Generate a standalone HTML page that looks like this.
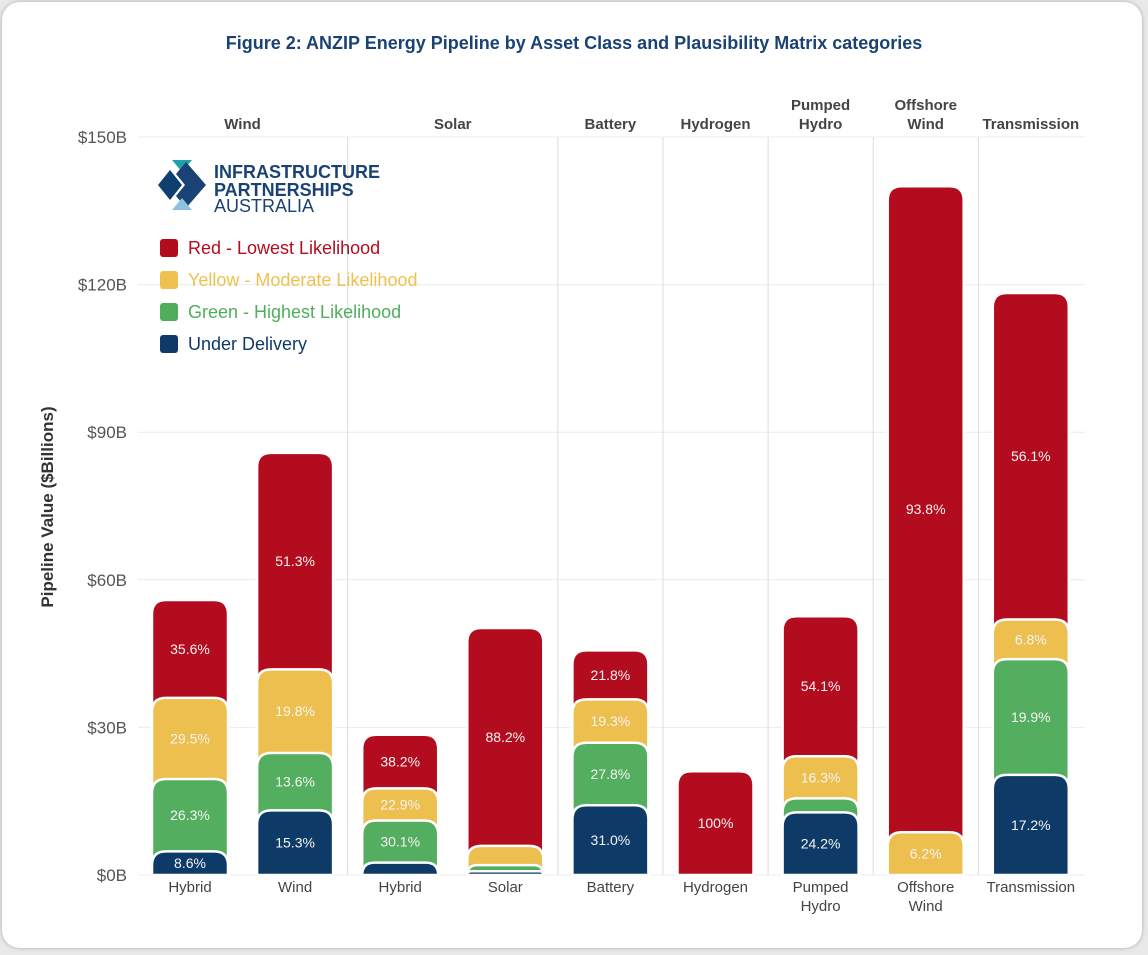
<!DOCTYPE html>
<html><head><meta charset="utf-8">
<style>
html,body{margin:0;padding:0;background:#e9e9e9;width:1148px;height:955px;overflow:hidden}
#card{position:absolute;left:2px;top:2px;width:1140px;height:946px;background:#fff;border-radius:18px;box-shadow:0 0 4px #aaa}
svg{position:absolute;left:0;top:0}
text{font-family:"Liberation Sans",sans-serif}
</style></head><body>
<div id="card"></div>
<svg id="chart" width="1148" height="955"></svg>
<script>
const categories=["Hybrid","Wind","Hybrid","Solar","Battery","Hydrogen","Pumped|Hydro","Offshore|Wind","Transmission"];
const totals=[55.9,85.8,28.5,50.2,45.7,21.1,52.6,140,118.3];
const blueVals=[8.6,15.3,8.8,1.5,31.0,0,24.2,0,17.2];
const greenVals=[26.3,13.6,30.1,2.5,27.8,0,5.4,0,19.9];
const yellowVals=[29.5,19.8,22.9,7.8,19.3,0,16.3,6.2,6.8];
const redVals=[35.6,51.3,38.2,88.2,21.8,100,54.1,93.8,56.1];
const yTicks=[0,30,60,90,120,150];
const facets=["Wind","Solar","Battery","Hydrogen","Pumped|Hydro","Offshore|Wind","Transmission"];
const facetSpan=[[0,1],[2,3],[4,4],[5,5],[6,6],[7,7],[8,8]];

const NS="http://www.w3.org/2000/svg";
const svg=document.getElementById('chart');
function el(t,a,txt){const e=document.createElementNS(NS,t);for(const k in a)e.setAttribute(k,a[k]);if(txt!==undefined)e.textContent=txt;svg.appendChild(e);return e;}
const y0=875,pxPer=738/150,x0=138,x1=1085;
const y=v=>y0-v*pxPer;
const xc=i=>190+i*105.1;
const bw=76;

let t=el('text',{x:574,y:49,'text-anchor':'middle','font-size':18,'font-weight':'bold',fill:'#1b4275'},'Figure 2: ANZIP Energy Pipeline by Asset Class and Plausibility Matrix categories');


yTicks.forEach(v=>{
  let g=el('line',{x1:x0,x2:x1,y1:y(v),y2:y(v),stroke:'#ececec','stroke-width':1});
  
  let l=el('text',{x:127,y:y(v)+6,'text-anchor':'end','font-size':17,fill:'#555'},'$'+v+'B');
  
});
facetSpan.forEach((s,i)=>{
  const left=xc(s[0])-52.5, right=xc(s[1])+52.5;
  if(i>0){let d=el('line',{x1:left,x2:left,y1:y(150),y2:y0,stroke:'#dcdcdc'});}
  const cx=(left+right)/2;const parts=facets[i].split('|');
  parts.forEach((p,j)=>{let f=el('text',{x:cx,y:129-(parts.length-1-j)*19,'text-anchor':'middle','font-size':15,'font-weight':'bold',fill:'#444'},p);
  });
});
let at=el('text',{x:0,y:0,transform:'translate(53,507) rotate(-90)','text-anchor':'middle','font-size':17,'font-weight':'bold',fill:'#333'},'Pipeline Value ($Billions)');


const colors=['#0d3a67','#54ae5f','#ecbf4e','#b30c1e'];
const series=[blueVals,greenVals,yellowVals,redVals];
const snames=['under-delivery','green','yellow','red'];
function topRounded(x,top,w,bottom,r){
  r=Math.min(r,(bottom-top),w/2);
  return `M${x},${bottom} L${x},${top+r} Q${x},${top} ${x+r},${top} L${x+w-r},${top} Q${x+w},${top} ${x+w},${top+r} L${x+w},${bottom} Z`;
}
categories.forEach((c,i)=>{
  const cum=[];let acc=0;
  series.forEach((s,k)=>{acc+=totals[i]*s[i]/100;cum.push(acc);});
  for(let k=3;k>=0;k--){
    const v=totals[i]*series[k][i]/100;if(v<=0)continue;
    const top=y(cum[k]);
    let p=el('path',{d:topRounded(xc(i)-bw/2,top,bw,y0,14),fill:colors[k],stroke:'#fff','stroke-width':2.5});
    
  }
  series.forEach((s,k)=>{
    const v=totals[i]*s[i]/100;if(v<=0)return;
    const h=v*pxPer;const top=y(cum[k]);
    if(h>=21){const txt=s[i]===100?'100%':s[i].toFixed(1)+'%';
      let lt=el('text',{x:xc(i),y:top+h/2+5,'text-anchor':'middle','font-size':14,fill:'#f4f4f4'},txt);
      }
  });
  c.split('|').forEach((p,j)=>{let xl=el('text',{x:xc(i),y:892+j*19,'text-anchor':'middle','font-size':15,fill:'#444'},p);
    });
});
[['M158,185 L170,170 L182,185 L170,200Z','#0f3f6f'],['M172,160 L192,160 L182,172Z','#1fa3a8'],['M186,162 L206,185 L186,208 L176,196 L185,185 L176,174Z','#1b4275'],['M172,210 L182,198 L192,210Z','#8ec3e0']].forEach(d=>{
  let p=el('path',{d:d[0],fill:d[1]});});
[['INFRASTRUCTURE',178,'bold'],['PARTNERSHIPS',196,'bold'],['AUSTRALIA',212,'normal']].forEach(a=>{
  let lt=el('text',{x:214,y:a[1],'font-size':18,'font-weight':a[2],fill:'#1b4275'},a[0]);});
const legendNames=['Red - Lowest Likelihood','Yellow - Moderate Likelihood','Green - Highest Likelihood','Under Delivery'];
const legColors=['#b30c1e','#efc14f','#4fae5c','#0d3a67'];
legendNames.forEach((n,i)=>{
  const ly=248+i*32;
  let s=el('rect',{x:160,y:ly-9,width:18,height:18,rx:3,fill:legColors[i]});
  let lt=el('text',{x:188,y:ly+6,'font-size':18,fill:legColors[i]},n);
});
</script>
</body></html>
